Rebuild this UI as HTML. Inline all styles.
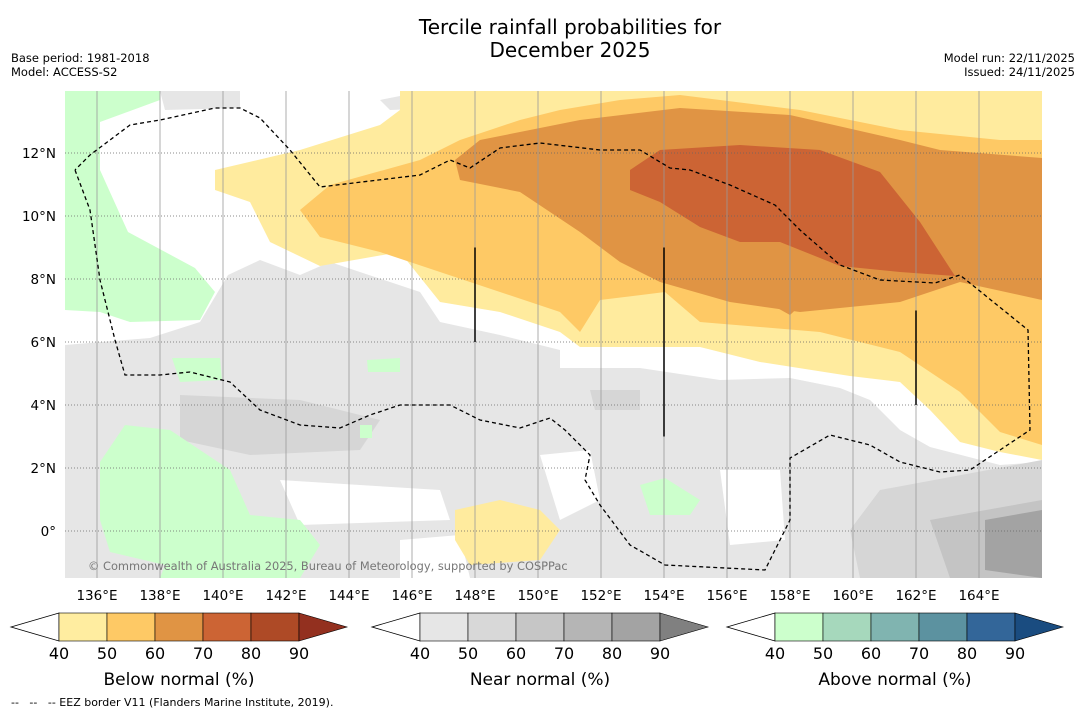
<!DOCTYPE html>
<html><head><meta charset="utf-8"><style>
body{margin:0;background:#fff;width:1085px;height:713px;overflow:hidden;font-family:"Liberation Sans","DejaVu Sans",sans-serif}
svg text{font-family:"DejaVu Sans","Liberation Sans",sans-serif}
</style></head><body>
<svg id="c" width="1085" height="713" xmlns="http://www.w3.org/2000/svg">
<text x="570" y="34" text-anchor="middle" font-size="20">Tercile rainfall probabilities for</text>
<text x="570" y="57" text-anchor="middle" font-size="20">December 2025</text>
<text x="11" y="62" font-size="11.5">Base period: 1981-2018</text>
<text x="11" y="76" font-size="11.5">Model: ACCESS-S2</text>
<text x="1075" y="62" font-size="11.5" text-anchor="end">Model run: 22/11/2025</text>
<text x="1075" y="76" font-size="11.5" text-anchor="end">Issued: 24/11/2025</text>
<g id="map"></g>
<g id="bars"></g>
<text x="11" y="706" font-size="11" xml:space="preserve">--   --   -- EEZ border V11 (Flanders Marine Institute, 2019).</text>
</svg>
<script>
const NS="http://www.w3.org/2000/svg";
const X0=65.5,Y0=531,K=31.5;
const lonTicks=[136,138,140,142,144,146,148,150,152,154,156,158,160,162,164];
const latTicks=[0,2,4,6,8,10,12];
const latLabels=["0°","2°N","4°N","6°N","8°N","10°N","12°N"];
function px(lon){return X0+(lon-135)*K}
function py(lat){return Y0-lat*K}
function toLL(p){return [135+(p[0]-X0)/K,(Y0-p[1])/K]}
function R(pts){return pts.map(toLL)}
const greyBase=R([[65,345],[150,338],[200,322],[228,275],[260,260],[300,275],[330,262],[420,292],[440,322],[500,335],[560,350],[560,368],[640,368],[720,380],[790,378],[840,388],[870,400],[900,430],[930,447],[1000,465],[1042,462],[1042,578],[65,578]]);
const greyTop=R([[160,91],[240,91],[240,108],[165,110]]);
const greyTop2=R([[380,100],[440,88],[560,88],[560,100],[440,108],[390,110]]);
const whitePatch=[R([[280,480],[440,490],[450,520],[300,525]]),R([[720,470],[780,470],[785,540],[730,545]]),R([[540,455],[590,450],[600,500],[560,520]]),R([[400,540],[460,535],[470,578],[400,578]])];
const grey50=[R([[180,395],[300,400],[380,420],[360,450],[250,455],[180,440]]),R([[590,390],[640,390],[640,410],[595,410]]),R([[880,490],[1042,460],[1042,578],[860,578],[850,530]])];
const grey60=[R([[930,520],[1042,500],[1042,578],[950,578]])];
const grey70=[R([[985,520],[1042,510],[1042,578],[985,570]])];
const yellow=R([[400,91],[1042,91],[1042,460],[1000,452],[960,442],[930,410],[900,382],[850,376],[760,362],[700,347],[580,347],[560,332],[500,312],[440,302],[400,252],[320,266],[270,242],[250,202],[215,190],[215,170],[300,150],[380,125],[400,110]]);
const yellowSouth=R([[455,510],[500,500],[540,510],[560,530],[540,560],[470,565],[455,540]]);
const orange=R([[300,210],[330,185],[420,160],[460,140],[520,120],[560,110],[620,100],[680,95],[800,110],[900,130],[1000,140],[1042,140],[1042,445],[1000,432],[960,392],[900,352],[820,332],[700,322],[665,292],[600,300],[580,332],[560,312],[500,292],[440,272],[380,252],[320,237]]);
const dorange=R([[455,160],[480,140],[580,120],[680,108],[790,115],[900,140],[940,150],[1042,158],[1042,300],[960,282],[900,302],[800,312],[730,302],[660,282],[620,262],[580,232],[520,192],[460,180]]);
const dorange2=R([[775,290],[795,285],[808,298],[790,315],[772,305]]);
const red=R([[630,170],[660,150],[740,145],[820,150],[880,172],[920,222],[955,276],[900,272],[840,266],[780,242],[740,242],[700,227],[660,202],[630,190]]);
const greens=[R([[65,91],[160,91],[160,100],[100,122],[100,170],[128,232],[195,268],[215,292],[200,320],[130,322],[100,312],[65,310]]),
R([[100,462],[125,425],[170,430],[230,470],[250,515],[300,520],[320,545],[300,578],[160,578],[165,565],[110,552],[100,520]]),
R([[172,358],[220,358],[222,380],[180,382]]),R([[640,485],[665,478],[700,500],[690,515],[650,515]]),R([[367,360],[400,358],[400,372],[368,372]]),R([[360,425],[372,425],[372,438],[360,438]])];
const eez=R([[75,170],[90,210],[100,280],[115,340],[125,375],[160,375],[190,372],[230,382],[260,410],[300,425],[340,428],[370,415],[400,405],[450,405],[480,420],[520,428],[550,418],[565,430],[590,455],[585,480],[600,505],[630,545],[665,565],[765,570],[790,520],[790,458],[830,435],[870,445],[900,462],[940,472],[970,470],[1030,430],[1028,330],[960,275],[935,283],[880,280],[840,265],[800,230],[775,205],[730,185],[690,170],[670,168],[640,150],[600,150],[540,143],[500,148],[470,168],[450,160],[420,175],[320,187],[290,150],[260,118],[240,108],[215,108],[160,120],[130,125],[90,155],[75,170]]);
const vlines=[[148,9,6],[154,9,3],[162,7,4]];
const map=document.getElementById('map');
function el(t,a,p){const e=document.createElementNS(NS,t);for(const k in a)e.setAttribute(k,a[k]);(p||map).appendChild(e);return e}
function poly(ll,fill,name){const e=el('polygon',{points:ll.map(q=>px(q[0])+','+py(q[1])).join(' '),fill:fill});

return e}
el('defs',{}).innerHTML='<clipPath id="cp"><rect x="65" y="91" width="977" height="487"/></clipPath>';
map.setAttribute('clip-path','url(#cp)');
const bg=el('rect',{x:65,y:91,width:977,height:487,fill:'#fff'});


poly(greyBase,'#e6e6e6','near-normal-40');poly(greyTop,'#e6e6e6','near-normal-40');poly(greyTop2,'#e6e6e6','near-normal-40');
whitePatch.forEach(p=>poly(p,'#fff','no-signal-area'));
grey50.forEach(p=>poly(p,'#d6d6d6','near-normal-50'));
grey60.forEach(p=>poly(p,'#c4c4c4','near-normal-60'));
grey70.forEach(p=>poly(p,'#a3a3a3','near-normal-70'));
poly(yellow,'#ffeb9e','below-normal-40');poly(yellowSouth,'#ffeb9e','below-normal-40');
poly(orange,'#fec965','below-normal-50');
poly(dorange,'#e09444','below-normal-60');poly(dorange2,'#e09444','below-normal-60');
poly(red,'#cc6434','below-normal-70');
greens.forEach(p=>poly(p,'#ccffcc','above-normal-40'));
lonTicks.forEach(l=>{const x=px(l);const g=el('line',{x1:x,x2:x,y1:91,y2:578,stroke:'#999','stroke-width':0.8});

});
latTicks.forEach(l=>{const y=py(l);const g=el('line',{x1:65,x2:1042,y1:y,y2:y,stroke:'#666','stroke-width':0.7,'stroke-dasharray':'1,2'});

});
const e=el('polyline',{points:eez.map(q=>px(q[0])+','+py(q[1])).join(' '),fill:'none',stroke:'#000','stroke-width':1.3,'stroke-dasharray':'4,3'});


vlines.forEach(v=>{const l=el('line',{x1:px(v[0]),x2:px(v[0]),y1:py(v[1]),y2:py(v[2]),stroke:'#000','stroke-width':1.5});

});
const svg=document.getElementById('c');
const at=el('text',{x:88,y:570,'font-size':11.4,fill:'#777'},svg);at.textContent='© Commonwealth of Australia 2025, Bureau of Meteorology, supported by COSPPac';


lonTicks.forEach(l=>{const t=el('text',{x:px(l),y:600,'font-size':13.5,'text-anchor':'middle'},svg);t.textContent=l+'°E';

});
latTicks.forEach((l,i)=>{const t=el('text',{x:56,y:py(l)+5,'font-size':13.5,'text-anchor':'end'},svg);t.textContent=latLabels[i];

});
const cbLabels=[40,50,60,70,80,90];
const cbTitles=["Below normal (%)","Near normal (%)","Above normal (%)"];
const cbColors=[["#ffeda0","#fec965","#e09444","#cc6434","#ae4a26","#93301f"],["#e6e6e6","#d8d8d8","#c6c6c6","#b5b5b5","#a3a3a3","#808080"],["#ccffcc","#a6d8bc","#80b4b0","#5c92a0","#336699","#1a4c80"]];
const cbX=[59,420,775];
const bars=document.getElementById('bars');
cbX.forEach((x0,b)=>{const g=el('g',{},bars);


const y1=613,y2=641,w=48;
el('polygon',{points:`${x0},${y1} ${x0-48},${(y1+y2)/2} ${x0},${y2}`,fill:'#fff',stroke:'#000','stroke-width':0.8},g);
for(let i=0;i<5;i++)el('rect',{x:x0+i*w,y:y1,width:w,height:y2-y1,fill:cbColors[b][i],stroke:'#000','stroke-width':0.6},g);
el('polygon',{points:`${x0+240},${y1} ${x0+288},${(y1+y2)/2} ${x0+240},${y2}`,fill:cbColors[b][5],stroke:'#000','stroke-width':0.6},g);
cbLabels.forEach((v,i)=>{const t=el('text',{x:x0+i*w,y:659,'font-size':16,'text-anchor':'middle'},g);t.textContent=v;

});
const t=el('text',{x:x0+120,y:685,'font-size':17,'text-anchor':'middle'},g);t.textContent=cbTitles[b];

});
</script>
</body></html>
